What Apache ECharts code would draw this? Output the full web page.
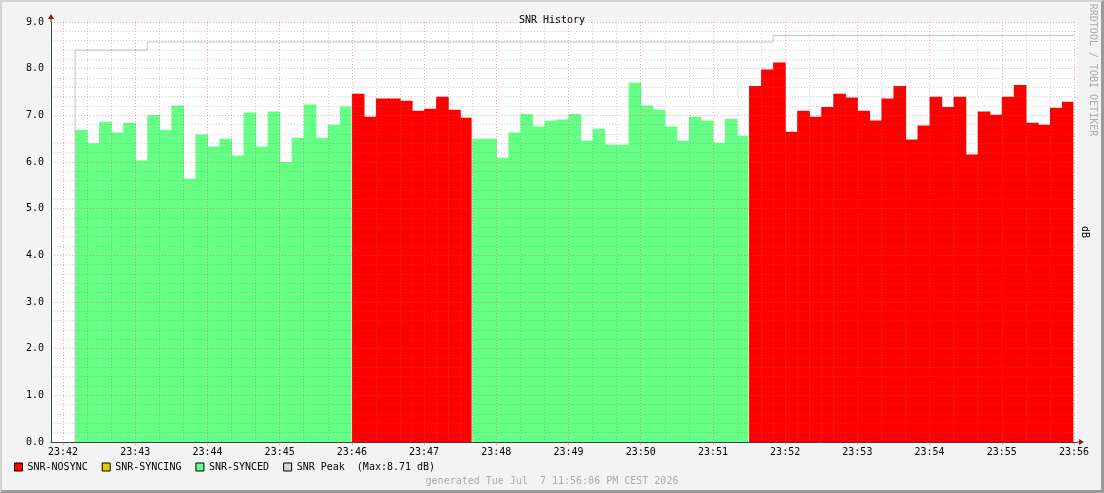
<!DOCTYPE html>
<html>
<head>
<meta charset="utf-8">
<title>SNR History</title>
<script src="https://cdn.jsdelivr.net/npm/echarts@6/dist/echarts.min.js"></script>
<style>
  html, body { margin: 0; padding: 0; background: #f3f3f3; }
  #wrap { position: relative; width: 1104px; height: 493px; }
  #chart { width: 1104px; height: 493px; }
  #frame {
    position: absolute; left: 0; top: 0; width: 1104px; height: 493px; box-sizing: border-box;
    border-top: 2px solid #d2d2d2; border-left: 2px solid #d2d2d2;
    border-right: 3px solid #9a9a9a; border-bottom: 3px solid #9a9a9a;
    pointer-events: none;
  }
</style>
</head>
<body>
<div id="wrap"><div id="chart"></div><div id="frame"></div></div>
<script>
// tick labels
var xTickLabels = ['23:42', '23:43', '23:44', '23:45', '23:46', '23:47', '23:48', '23:49',
    '23:50', '23:51', '23:52', '23:53', '23:54', '23:55', '23:56'];
var yTickLabels = ['0.0', '1.0', '2.0', '3.0', '4.0', '5.0', '6.0', '7.0', '8.0', '9.0'];

// one sample every 10 s, first one starts at 23:42:10
var sampleStart = '23:42:10';
var sampleStep = 10;
var snr = [
    // synced
    6.69, 6.40, 6.86, 6.63, 6.84, 6.03, 7.00, 6.69, 7.21, 5.64, 6.59, 6.33, 6.50, 6.14, 7.06, 6.33,
    7.08, 6.00, 6.52, 7.23, 6.52, 6.80, 7.19,
    // nosync
    7.46, 6.97, 7.36, 7.36, 7.31, 7.10, 7.14, 7.40, 7.12, 6.95,
    // synced
    6.50, 6.50, 6.09, 6.63, 7.03, 6.76, 6.89, 6.91, 7.03, 6.46, 6.71, 6.37, 6.37, 7.70, 7.21, 7.12,
    6.76, 6.46, 6.97, 6.89, 6.41, 6.92, 6.56,
    // nosync
    7.63, 7.98, 8.13, 6.65, 7.10, 6.97, 7.18, 7.46, 7.38, 7.10, 6.89, 7.36, 7.63, 6.48, 6.78, 7.40,
    7.18, 7.40, 6.16, 7.08, 7.01, 7.40, 7.65, 6.84, 6.80, 7.16, 7.29
];
// sync state of the samples, as [state, number of samples]
var stateRuns = [['SNR-SYNCED', 23], ['SNR-NOSYNC', 10], ['SNR-SYNCED', 23], ['SNR-NOSYNC', 27]];

// peak line (step)
var peakTimes = ['23:42:10', '23:42:10', '23:43:10', '23:51:50', '23:56:00'];
var peakValues = [0, 8.40, 8.57, 8.71, 8.71];

var seriesNames = ['SNR-NOSYNC', 'SNR-SYNCING', 'SNR-SYNCED', 'SNR Peak'];
var seriesColors = ['#ff0000', '#dccc00', '#64ff84', '#c4c4c4'];

var FONT = 'DejaVu Sans Mono';
var MAJOR = 'rgba(235,70,70,0.45)';
var MINOR = 'rgba(120,120,120,0.35)';
var AXIS = '#404040';

function toSec(t) {
    var p = t.split(':');
    return (+p[0]) * 3600 + (+p[1]) * 60 + (+(p[2] || 0));
}
function hhmm(s) {
    var h = Math.floor(s / 3600), m = Math.floor((s % 3600) / 60);
    return (h < 10 ? '0' : '') + h + ':' + (m < 10 ? '0' : '') + m;
}

var majorTicks = xTickLabels.map(toSec);
var minorTicks = [];
majorTicks.forEach(function (t) {
    minorTicks.push(t + 20, t + 40);
});
var xMin = majorTicks[0] - 10;
var xMax = majorTicks[majorTicks.length - 1] + 2.5;

// bars per state
var bars = {};
seriesNames.forEach(function (n) { bars[n] = []; });
var t0 = toSec(sampleStart), idx = 0;
stateRuns.forEach(function (run) {
    for (var k = 0; k < run[1]; k++, idx++) {
        var s = t0 + idx * sampleStep;
        bars[run[0]].push([s, s + sampleStep, snr[idx], k === run[1] - 1 ? 1 : 0]);
    }
});

function renderBar(color) {
    return function (params, api) {
        var top = api.coord([api.value(0), api.value(2)]);
        var end = api.coord([api.value(1), 0]);
        var pad = api.value(3) ? -0.6 : 0.6;
        return {
            type: 'rect',
            shape: { x: top[0], y: top[1], width: end[0] - top[0] + pad, height: end[1] - top[1] },
            style: { fill: color }
        };
    };
}

var peakMax = Math.max.apply(null, peakValues).toFixed(2);

var chart = echarts.init(document.getElementById('chart'));

var series = [];
for (var j = 0; j < 3; j++) {
    series.push({
        name: seriesNames[j],
        type: 'custom',
        renderItem: renderBar(seriesColors[j]),
        itemStyle: { color: seriesColors[j] },
        encode: { x: [0, 1], y: 2 },
        data: bars[seriesNames[j]],
        z: 2
    });
}
series.push({
    name: 'SNR Peak',
    type: 'line',
    step: 'end',
    symbol: 'none',
    data: peakTimes.map(function (t, i) { return [toSec(t), peakValues[i]]; }),
    lineStyle: { color: seriesColors[3], width: 1 },
    itemStyle: { color: '#d6d6d6' },
    z: 2
});

var option = {
    backgroundColor: '#f3f3f3',
    animation: false,
    title: {
        text: 'SNR History',
        left: 'center',
        top: 10,
        textStyle: { fontFamily: FONT, fontSize: 10, fontWeight: 'normal', color: '#000' }
    },
    grid: {
        left: 51, top: 22, width: 1026, height: 420,
        show: true, backgroundColor: '#ffffff', borderWidth: 0
    },
    legend: {
        left: 14,
        top: 462,
        padding: 0,
        icon: 'rect',
        itemWidth: 8,
        itemHeight: 8,
        itemGap: 14,
        selectedMode: false,
        itemStyle: { borderColor: '#000', borderWidth: 1 },
        textStyle: { fontFamily: FONT, fontSize: 10, color: '#000' },
        data: seriesNames.map(function (n, i) {
            return { name: n, icon: 'rect', itemStyle: { color: i === 3 ? '#d6d6d6' : seriesColors[i] } };
        }),
        formatter: function (name) {
            return name === 'SNR Peak' ? name + '  (Max:' + peakMax + ' dB)' : name;
        }
    },
    xAxis: [{
        type: 'value',
        min: xMin,
        max: xMax,
        z: 3,
        axisLine: { show: true, onZero: false, lineStyle: { color: AXIS } },
        axisTick: { show: true, length: 3, lineStyle: { color: MAJOR }, customValues: majorTicks },
        axisLabel: {
            customValues: majorTicks,
            formatter: hhmm,
            fontFamily: FONT, fontSize: 10, color: '#000', margin: 5
        },
        splitLine: { show: true, lineStyle: { color: MAJOR, type: [1, 2] } }
    }, {
        type: 'value',
        min: xMin,
        max: xMax,
        position: 'bottom',
        z: 3,
        axisLine: { show: false },
        axisTick: { show: false, customValues: minorTicks },
        axisLabel: { show: false },
        splitLine: { show: true, lineStyle: { color: MINOR, type: [1, 2] } }
    }],
    yAxis: {
        type: 'value',
        min: 0,
        max: 9,
        interval: 1,
        z: 3,
        axisLine: { show: true, lineStyle: { color: AXIS } },
        axisTick: { show: false },
        axisLabel: {
            fontFamily: FONT, fontSize: 10, color: '#000', margin: 7,
            formatter: function (v) { return yTickLabels[Math.round(v)]; }
        },
        splitLine: { show: true, lineStyle: { color: MAJOR, type: [1, 2] } },
        minorTick: { show: false, splitNumber: 5 },
        minorSplitLine: { show: true, lineStyle: { color: MINOR, type: [1, 2] } }
    },
    series: series
};

chart.setOption(option);

// arrows at the axis ends and side texts
var pTop = chart.convertToPixel({ gridIndex: 0 }, [xMin, 9]);
var pEnd = chart.convertToPixel({ gridIndex: 0 }, [xMax, 0]);
chart.setOption({
    graphic: [
        { type: 'line', shape: { x1: pTop[0], y1: pTop[1], x2: pTop[0], y2: pTop[1] - 4 }, style: { stroke: AXIS, lineWidth: 1 }, z: 10 },
        { type: 'polygon', shape: { points: [[pTop[0], pTop[1] - 8], [pTop[0] - 3, pTop[1] - 3], [pTop[0] + 3, pTop[1] - 3]] }, style: { fill: '#9a1010' }, z: 10 },
        { type: 'line', shape: { x1: pEnd[0], y1: pEnd[1], x2: pEnd[0] + 2, y2: pEnd[1] }, style: { stroke: AXIS, lineWidth: 1 }, z: 10 },
        { type: 'polygon', shape: { points: [[pEnd[0] + 7, pEnd[1]], [pEnd[0] + 2, pEnd[1] - 3], [pEnd[0] + 2, pEnd[1] + 3]] }, style: { fill: '#9a1010' }, z: 10 },
        {
            type: 'text', x: 1093, y: 70, rotation: -Math.PI / 2,
            style: { text: 'RRDTOOL / TOBI OETIKER', fill: '#ababab', font: '10px "DejaVu Sans Mono"', align: 'center', verticalAlign: 'middle' }
        },
        {
            type: 'text', x: 1085, y: 232, rotation: -Math.PI / 2,
            style: { text: 'dB', fill: '#000', font: '10px "DejaVu Sans Mono"', align: 'center', verticalAlign: 'middle' }
        },
        {
            type: 'text', x: 552, y: 481,
            style: { text: 'generated Tue Jul  7 11:56:06 PM CEST 2026', fill: '#ababab', font: '10px "DejaVu Sans Mono"', align: 'center', verticalAlign: 'middle' }
        }
    ]
});
</script>
</body>
</html>
